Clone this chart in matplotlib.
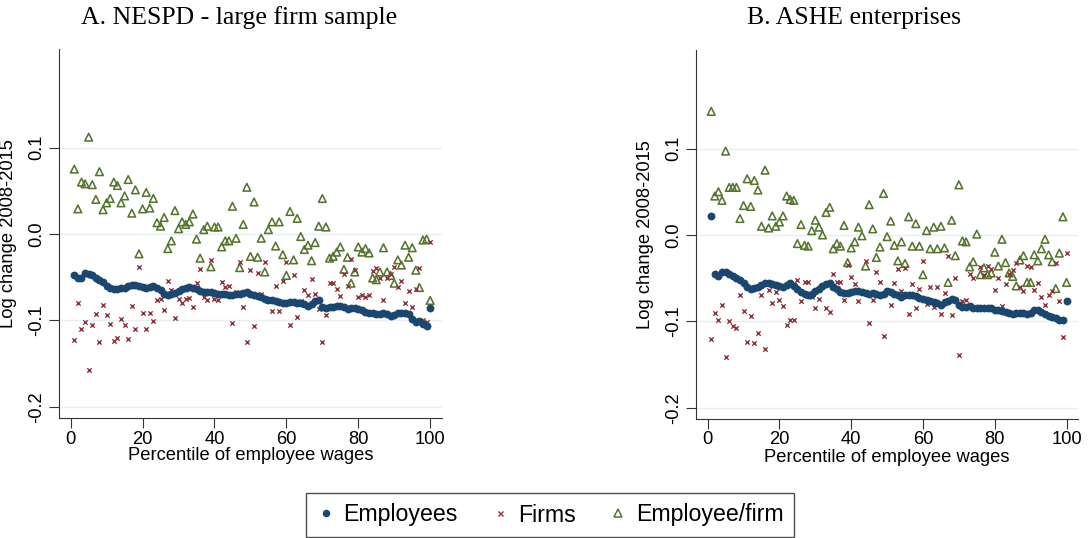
import numpy as np
import matplotlib
matplotlib.use('Agg')
import matplotlib.pyplot as plt
from matplotlib.lines import Line2D

plt.rcParams['font.family'] = ['Liberation Sans', 'DejaVu Sans']

# percentiles 1..100
pct = list(range(1, 101))

# panel A: NESPD - large firm sample
a_employees = [
    -0.048, -0.051, -0.051, -0.045, -0.046, -0.048, -0.051, -0.053, -0.056, -0.060,
    -0.063, -0.064, -0.064, -0.063, -0.062, -0.060, -0.059, -0.059, -0.060, -0.061,
    -0.062, -0.061, -0.060, -0.062, -0.065, -0.069, -0.071, -0.070, -0.068, -0.066,
    -0.064, -0.062, -0.061, -0.062, -0.064, -0.066, -0.067, -0.067, -0.067, -0.068,
    -0.069, -0.069, -0.070, -0.071, -0.071, -0.070, -0.069, -0.068, -0.067, -0.069,
    -0.071, -0.072, -0.073, -0.075, -0.076, -0.077, -0.078, -0.079, -0.080, -0.080,
    -0.079, -0.079, -0.080, -0.080, -0.081, -0.083, -0.081, -0.078, -0.077, -0.085,
    -0.086, -0.085, -0.084, -0.083, -0.083, -0.085, -0.087, -0.086, -0.086, -0.087,
    -0.088, -0.090, -0.091, -0.092, -0.093, -0.093, -0.092, -0.093, -0.095, -0.094,
    -0.092, -0.091, -0.092, -0.093, -0.099, -0.102, -0.101, -0.104, -0.106, -0.086]
a_firms = [
    -0.123, -0.080, -0.110, -0.102, -0.158, -0.105, -0.093, -0.125, -0.082, -0.094,
    -0.104, -0.124, -0.120, -0.098, -0.105, -0.122, -0.083, -0.110, -0.038, -0.092,
    -0.110, -0.092, -0.101, -0.077, -0.075, -0.088, -0.055, -0.065, -0.097, -0.075,
    -0.080, -0.075, -0.074, -0.085, -0.057, -0.041, -0.073, -0.076, -0.030, -0.075,
    -0.076, -0.056, -0.061, -0.060, -0.103, -0.067, -0.032, -0.084, -0.125, -0.042,
    -0.107, -0.045, -0.069, -0.033, -0.078, -0.089, -0.060, -0.089, -0.055, -0.033,
    -0.105, -0.048, -0.096, -0.078, -0.065, -0.071, -0.052, -0.069, -0.087, -0.125,
    -0.094, -0.057, -0.057, -0.064, -0.072, -0.046, -0.060, -0.029, -0.042, -0.073,
    -0.071, -0.073, -0.071, -0.043, -0.040, -0.051, -0.077, -0.051, -0.046, -0.038,
    -0.061, -0.055, -0.080, -0.066, -0.084, -0.064, -0.039, -0.100, -0.102, -0.009]
a_ratio = [
    0.075, 0.029, 0.060, 0.058, 0.112, 0.057, 0.040, 0.072, 0.028, 0.036,
    0.041, 0.060, 0.056, 0.036, 0.044, 0.063, 0.024, 0.051, -0.023, 0.029,
    0.048, 0.030, 0.041, 0.013, 0.009, 0.019, -0.017, -0.008, 0.027, 0.006,
    0.014, 0.011, 0.014, 0.023, -0.006, -0.028, 0.005, 0.009, -0.038, 0.008,
    0.008, -0.015, -0.008, -0.008, 0.032, -0.005, -0.039, 0.011, 0.054, -0.026,
    0.037, -0.027, -0.005, -0.044, 0.005, 0.014, -0.014, 0.014, -0.024, -0.048,
    0.026, -0.030, 0.018, -0.003, -0.018, -0.013, -0.031, -0.010, 0.009, 0.041,
    0.008, -0.028, -0.026, -0.021, -0.015, -0.041, -0.027, -0.057, -0.044, -0.015,
    -0.021, -0.017, -0.022, -0.051, -0.053, -0.044, -0.016, -0.044, -0.048, -0.057,
    -0.030, -0.036, -0.013, -0.027, -0.016, -0.042, -0.062, -0.007, -0.006, -0.077]

# panel B: ASHE enterprises
b_employees = [
    0.022, -0.045, -0.048, -0.043, -0.043, -0.045, -0.048, -0.050, -0.052, -0.056,
    -0.060, -0.062, -0.061, -0.060, -0.058, -0.056, -0.056, -0.057, -0.058, -0.059,
    -0.060, -0.058, -0.056, -0.059, -0.062, -0.066, -0.068, -0.069, -0.068, -0.065,
    -0.063, -0.059, -0.057, -0.056, -0.060, -0.063, -0.066, -0.067, -0.067, -0.066,
    -0.065, -0.065, -0.066, -0.067, -0.068, -0.067, -0.068, -0.070, -0.068, -0.065,
    -0.066, -0.068, -0.070, -0.072, -0.070, -0.069, -0.070, -0.071, -0.073, -0.074,
    -0.075, -0.076, -0.078, -0.079, -0.081, -0.078, -0.076, -0.074, -0.075, -0.081,
    -0.083, -0.083, -0.082, -0.084, -0.085, -0.084, -0.084, -0.085, -0.085, -0.087,
    -0.087, -0.088, -0.089, -0.090, -0.091, -0.090, -0.090, -0.090, -0.091, -0.090,
    -0.087, -0.087, -0.089, -0.092, -0.094, -0.095, -0.096, -0.099, -0.098, -0.077]
b_firms = [
    -0.120, -0.090, -0.098, -0.081, -0.141, -0.100, -0.105, -0.108, -0.070, -0.088,
    -0.124, -0.094, -0.125, -0.113, -0.070, -0.132, -0.064, -0.079, -0.066, -0.075,
    -0.082, -0.104, -0.099, -0.099, -0.052, -0.077, -0.055, -0.055, -0.072, -0.085,
    -0.074, -0.060, -0.084, -0.089, -0.045, -0.055, -0.055, -0.075, -0.035, -0.049,
    -0.057, -0.077, -0.065, -0.030, -0.102, -0.075, -0.043, -0.055, -0.117, -0.064,
    -0.081, -0.056, -0.039, -0.065, -0.038, -0.091, -0.057, -0.085, -0.062, -0.030,
    -0.080, -0.060, -0.083, -0.060, -0.091, -0.067, -0.024, -0.093, -0.050, -0.139,
    -0.077, -0.075, -0.045, -0.050, -0.084, -0.037, -0.046, -0.036, -0.039, -0.064,
    -0.050, -0.082, -0.057, -0.045, -0.041, -0.032, -0.060, -0.065, -0.036, -0.037,
    -0.064, -0.056, -0.072, -0.081, -0.070, -0.065, -0.032, -0.077, -0.118, -0.021]
b_ratio = [
    0.143, 0.045, 0.050, 0.040, 0.097, 0.055, 0.055, 0.055, 0.019, 0.034,
    0.065, 0.033, 0.063, 0.052, 0.010, 0.075, 0.008, 0.022, 0.010, 0.015,
    0.022, 0.045, 0.041, 0.040, -0.010, 0.012, -0.012, -0.013, 0.005, 0.017,
    0.009, 0.000, 0.026, 0.032, -0.016, -0.010, -0.013, 0.011, -0.032, -0.015,
    -0.008, 0.009, -0.001, -0.036, 0.035, 0.007, -0.026, -0.014, 0.048, -0.002,
    0.016, -0.012, -0.030, -0.008, -0.033, 0.021, -0.013, 0.013, -0.013, -0.046,
    0.005, -0.016, 0.009, -0.016, 0.010, -0.015, -0.055, 0.017, -0.024, 0.058,
    -0.007, -0.008, -0.037, -0.031, 0.001, -0.046, -0.038, -0.046, -0.044, -0.020,
    -0.036, -0.005, -0.032, -0.044, -0.048, -0.059, -0.029, -0.024, -0.055, -0.055,
    -0.023, -0.030, -0.016, -0.005, -0.023, -0.031, -0.062, -0.021, 0.021, -0.055]

titles = ['A. NESPD - large firm sample', 'B. ASHE enterprises']
legend_labels = ['Employees', 'Firms', 'Employee/firm']
yticks = [0.1, 0.0, -0.1, -0.2]
xticks = [0, 20, 40, 60, 80, 100]

navy = '#1a476f'
maroon = '#90353b'
green = '#55752f'
W, H = 1088, 538

fig = plt.figure(figsize=(W / 100, H / 100), dpi=100)
ax_a = fig.add_axes([59 / W, 1 - 418 / H, 382.7 / W, 369 / H])
ax_b = fig.add_axes([696 / W, 1 - 419 / H, 382 / W, 369 / H])

panels = [(ax_a, a_employees, a_firms, a_ratio), (ax_b, b_employees, b_firms, b_ratio)]
for ax, emp, firms, ratio in panels:
    ax.set_xlim(-3.25, 103.2)
    ax.set_ylim(-0.213, 0.214)
    for t in yticks:
        ax.axhline(t, color='#e7eff1', lw=1.0, zorder=0)
    ax.scatter(pct, ratio, marker='^', s=30, facecolors='none', edgecolors=green,
               linewidths=1.15, zorder=2)
    ax.scatter(pct, firms, marker='x', s=10, color=maroon, linewidths=1.0, zorder=3)
    ax.scatter(pct, emp, marker='o', s=32, color=navy, linewidths=0, zorder=4)
    ax.set_xticks(xticks)
    ax.set_yticks(yticks)
    ax.set_yticklabels(['0.1', '0.0', '-0.1', '-0.2'], rotation=90, va='center')
    ax.tick_params(axis='both', length=7, width=0.8, color='#333333', labelsize=13.2, pad=3)
    ax.tick_params(axis='x', pad=2)
    for s in ['top', 'right']:
        ax.spines[s].set_visible(False)
    for s in ['left', 'bottom']:
        ax.spines[s].set_color('#333333')
        ax.spines[s].set_linewidth(0.8)
    ax.set_xlabel('Percentile of employee wages', fontsize=13.2, labelpad=0)
    ax.set_ylabel('Log change 2008-2015', fontsize=13.2)
    ax.yaxis.set_label_coords(-0.11, 0.5)

fig.text(239 / W, 1 - 18 / H, titles[0], family='Liberation Serif', fontsize=18.5,
         ha='center', va='center')
fig.text(854 / W, 1 - 18 / H, titles[1], family='Liberation Serif', fontsize=18.5,
         ha='center', va='center')

handles = [
    Line2D([], [], ls='none', marker='o', ms=4.4, color=navy, mec=navy),
    Line2D([], [], ls='none', marker='x', ms=3.6, color=maroon, mew=1.0),
    Line2D([], [], ls='none', marker='^', ms=5.2, mfc='none', mec=green, mew=1.1),
]
leg = fig.legend(handles, legend_labels, loc='center', bbox_to_anchor=(550 / W, 1 - 515 / H),
                 ncol=3, fontsize=16.7, frameon=True, fancybox=False, edgecolor='#222222',
                 handlelength=0.8, handletextpad=0.37, columnspacing=1.43, borderpad=0.45)
leg.get_frame().set_linewidth(1.0)

fig.savefig('out.png', dpi=100)
